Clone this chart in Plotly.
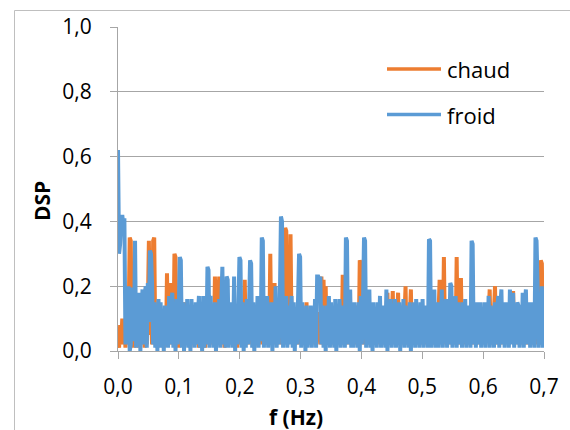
import plotly.graph_objects as go

# Power spectral density (DSP) of the two recordings, sampled every 0.00175 Hz
f_step = 0.00175
n_pts = 401
freq = [round(i * f_step, 5) for i in range(n_pts)]

dsp_chaud = [
    0.05, 0.01, 0.08, 0.02, 0.10, 0.03, 0.07, 0.01, 0.09, 0.02, 0.11, 0.35, 0.34, 0.02, 0.10, 0.01, 0.12, 0.03, 0.08, 0.01,
    0.09, 0.02, 0.12, 0.03, 0.07, 0.01, 0.10, 0.02, 0.13, 0.34, 0.05, 0.12, 0.02, 0.34, 0.35, 0.03, 0.10, 0.01, 0.12, 0.02,
    0.09, 0.03, 0.11, 0.01, 0.08, 0.02, 0.24, 0.03, 0.10, 0.21, 0.02, 0.09, 0.03, 0.30, 0.29, 0.02, 0.11, 0.01, 0.08, 0.03,
    0.10, 0.02, 0.09, 0.15, 0.02, 0.12, 0.03, 0.08, 0.01, 0.11, 0.02, 0.10, 0.04, 0.09, 0.02, 0.12, 0.01, 0.08, 0.03, 0.10,
    0.02, 0.11, 0.01, 0.09, 0.03, 0.12, 0.02, 0.08, 0.04, 0.10, 0.02, 0.23, 0.05, 0.22, 0.04, 0.23, 0.02, 0.11, 0.03, 0.09,
    0.01, 0.10, 0.03, 0.12, 0.02, 0.09, 0.04, 0.11, 0.02, 0.08, 0.03, 0.13, 0.01, 0.10, 0.02, 0.09, 0.03, 0.12, 0.02, 0.22,
    0.03, 0.10, 0.02, 0.11, 0.04, 0.09, 0.02, 0.13, 0.01, 0.10, 0.03, 0.12, 0.02, 0.08, 0.04, 0.11, 0.02, 0.14, 0.03, 0.10,
    0.02, 0.11, 0.04, 0.30, 0.03, 0.12, 0.02, 0.21, 0.03, 0.10, 0.02, 0.12, 0.04, 0.09, 0.02, 0.15, 0.03, 0.38, 0.37, 0.02,
    0.12, 0.03, 0.36, 0.05, 0.11, 0.02, 0.13, 0.03, 0.09, 0.02, 0.12, 0.04, 0.10, 0.02, 0.11, 0.03, 0.09, 0.15, 0.02, 0.10,
    0.03, 0.12, 0.02, 0.09, 0.04, 0.11, 0.02, 0.10, 0.03, 0.12, 0.02, 0.23, 0.06, 0.22, 0.05, 0.20, 0.03, 0.11, 0.02, 0.09,
    0.03, 0.13, 0.02, 0.10, 0.04, 0.11, 0.02, 0.09, 0.03, 0.12, 0.02, 0.235, 0.03, 0.10, 0.02, 0.11, 0.04, 0.09, 0.02, 0.12,
    0.03, 0.10, 0.02, 0.14, 0.04, 0.11, 0.02, 0.28, 0.27, 0.03, 0.11, 0.02, 0.12, 0.03, 0.09, 0.02, 0.10, 0.04, 0.12, 0.02,
    0.11, 0.03, 0.13, 0.02, 0.09, 0.04, 0.11, 0.02, 0.12, 0.03, 0.10, 0.02, 0.13, 0.18, 0.03, 0.11, 0.02, 0.10, 0.185, 0.03,
    0.11, 0.02, 0.09, 0.18, 0.03, 0.12, 0.02, 0.10, 0.04, 0.11, 0.20, 0.02, 0.12, 0.03, 0.10, 0.19, 0.02, 0.11, 0.03, 0.09,
    0.02, 0.12, 0.04, 0.10, 0.02, 0.11, 0.03, 0.13, 0.02, 0.09, 0.04, 0.11, 0.02, 0.10, 0.03, 0.12, 0.02, 0.09, 0.04, 0.11,
    0.02, 0.12, 0.22, 0.03, 0.11, 0.02, 0.29, 0.05, 0.12, 0.02, 0.10, 0.04, 0.11, 0.02, 0.09, 0.03, 0.12, 0.02, 0.29, 0.04,
    0.11, 0.02, 0.225, 0.03, 0.10, 0.02, 0.12, 0.04, 0.09, 0.02, 0.11, 0.03, 0.13, 0.02, 0.10, 0.04, 0.11, 0.02, 0.12, 0.03,
    0.09, 0.02, 0.11, 0.04, 0.10, 0.02, 0.12, 0.03, 0.11, 0.19, 0.02, 0.10, 0.03, 0.12, 0.20, 0.02, 0.11, 0.04, 0.09, 0.02,
    0.12, 0.03, 0.10, 0.02, 0.11, 0.04, 0.13, 0.02, 0.09, 0.03, 0.12, 0.185, 0.02, 0.11, 0.03, 0.10, 0.02, 0.12, 0.04, 0.09,
    0.02, 0.11, 0.03, 0.10, 0.02, 0.12, 0.04, 0.09, 0.02, 0.11, 0.03, 0.12, 0.02, 0.10, 0.04, 0.11, 0.02, 0.28, 0.27, 0.03,
    0.10,
]

dsp_froid = [
    0.62, 0.30, 0.33, 0.40, 0.42, 0.39, 0.41, 0.02, 0.09, 0.16, 0.20, 0.00, 0.02, 0.19, 0.19, 0.03, 0.34, 0.01, 0.08, 0.15,
    0.18, 0.00, 0.11, 0.19, 0.02, 0.17, 0.20, 0.01, 0.21, 0.09, 0.31, 0.30, 0.21, 0.02, 0.15, 0.01, 0.14, 0.00, 0.16, 0.01,
    0.15, 0.01, 0.12, 0.00, 0.14, 0.02, 0.11, 0.01, 0.17, 0.02, 0.15, 0.18, 0.01, 0.13, 0.00, 0.16, 0.02, 0.12, 0.29, 0.28,
    0.01, 0.15, 0.00, 0.12, 0.02, 0.16, 0.01, 0.14, 0.00, 0.16, 0.03, 0.13, 0.01, 0.15, 0.02, 0.11, 0.17, 0.01, 0.14, 0.00,
    0.17, 0.01, 0.13, 0.02, 0.26, 0.25, 0.01, 0.17, 0.03, 0.14, 0.01, 0.15, 0.00, 0.12, 0.02, 0.16, 0.01, 0.15, 0.26, 0.02,
    0.13, 0.01, 0.23, 0.22, 0.01, 0.15, 0.02, 0.13, 0.01, 0.23, 0.00, 0.14, 0.02, 0.12, 0.29, 0.28, 0.01, 0.15, 0.00, 0.13,
    0.01, 0.16, 0.02, 0.12, 0.28, 0.27, 0.01, 0.15, 0.00, 0.11, 0.02, 0.17, 0.01, 0.13, 0.03, 0.35, 0.34, 0.01, 0.15, 0.02,
    0.17, 0.01, 0.13, 0.02, 0.15, 0.00, 0.14, 0.03, 0.20, 0.01, 0.15, 0.02, 0.17, 0.415, 0.40, 0.01, 0.15, 0.02, 0.17, 0.01,
    0.14, 0.02, 0.12, 0.17, 0.01, 0.15, 0.00, 0.13, 0.02, 0.15, 0.30, 0.29, 0.01, 0.15, 0.02, 0.13, 0.00, 0.14, 0.01, 0.12,
    0.02, 0.14, 0.01, 0.13, 0.03, 0.16, 0.01, 0.23, 0.23, 0.22, 0.23, 0.02, 0.14, 0.01, 0.12, 0.00, 0.14, 0.02, 0.17, 0.01,
    0.15, 0.02, 0.13, 0.01, 0.16, 0.00, 0.14, 0.03, 0.16, 0.01, 0.14, 0.02, 0.13, 0.01, 0.35, 0.34, 0.02, 0.15, 0.19, 0.01,
    0.14, 0.01, 0.15, 0.03, 0.12, 0.01, 0.15, 0.00, 0.17, 0.02, 0.14, 0.35, 0.34, 0.01, 0.15, 0.02, 0.19, 0.01, 0.13, 0.00,
    0.15, 0.02, 0.13, 0.01, 0.15, 0.03, 0.17, 0.01, 0.14, 0.02, 0.12, 0.01, 0.19, 0.00, 0.15, 0.02, 0.16, 0.01, 0.13, 0.02,
    0.16, 0.01, 0.12, 0.02, 0.15, 0.00, 0.13, 0.03, 0.16, 0.01, 0.14, 0.02, 0.12, 0.01, 0.15, 0.00, 0.13, 0.03, 0.15, 0.01,
    0.16, 0.02, 0.13, 0.01, 0.15, 0.02, 0.16, 0.01, 0.14, 0.03, 0.12, 0.01, 0.345, 0.34, 0.01, 0.15, 0.02, 0.19, 0.01, 0.13,
    0.15, 0.01, 0.12, 0.02, 0.19, 0.01, 0.14, 0.03, 0.16, 0.01, 0.13, 0.02, 0.21, 0.20, 0.01, 0.15, 0.02, 0.17, 0.01, 0.13,
    0.15, 0.02, 0.13, 0.01, 0.15, 0.03, 0.16, 0.01, 0.14, 0.02, 0.12, 0.01, 0.34, 0.33, 0.02, 0.15, 0.01, 0.15, 0.02, 0.12,
    0.15, 0.01, 0.13, 0.02, 0.15, 0.01, 0.15, 0.03, 0.17, 0.01, 0.14, 0.02, 0.12, 0.01, 0.15, 0.02, 0.13, 0.17, 0.01, 0.14,
    0.19, 0.02, 0.13, 0.01, 0.15, 0.03, 0.12, 0.01, 0.19, 0.02, 0.14, 0.18, 0.01, 0.13, 0.02, 0.15, 0.14, 0.01, 0.12, 0.02,
    0.18, 0.01, 0.14, 0.19, 0.02, 0.13, 0.15, 0.01, 0.15, 0.02, 0.12, 0.01, 0.35, 0.34, 0.20, 0.01, 0.15, 0.02, 0.20, 0.01,
    0.19,
]
assert len(dsp_chaud) == n_pts and len(dsp_froid) == n_pts

series_names = ["chaud", "froid"]
series_colors = ["#ED7D31", "#5B9BD5"]
x_ticks = [0.0, 0.1, 0.2, 0.3, 0.4, 0.5, 0.6, 0.7]
x_tick_text = ["0,0", "0,1", "0,2", "0,3", "0,4", "0,5", "0,6", "0,7"]
y_ticks = [0.0, 0.2, 0.4, 0.6, 0.8, 1.0]
y_tick_text = ["0,0", "0,2", "0,4", "0,6", "0,8", "1,0"]

W, H = 570, 430
ML, MR, MT, MB = 118, 26, 27, 79
PW, PH = W - ML - MR, H - MT - MB
FONT = "Open Sans"
GRID = "#A6A6A6"


def px(x):
    return (x - ML) / PW


def py(y):
    return (H - MB - y) / PH


fig = go.Figure()
for name, vals, col in zip(series_names, [dsp_chaud, dsp_froid], series_colors):
    fig.add_trace(go.Scatter(
        x=freq, y=vals, mode="lines", name=name, showlegend=False,
        line=dict(color=col, width=4, simplify=False),
    ))

axis_common = dict(
    showline=True, linecolor=GRID, linewidth=1.3,
    ticks="outside", ticklen=7, tickcolor=GRID, tickwidth=1.3,
    tickfont=dict(family=FONT, size=21, color="#000000"),
    zeroline=False,
)
fig.update_xaxes(
    range=[0, 0.7], tickvals=x_ticks, ticktext=x_tick_text,
    showgrid=False, ticklabelstandoff=10, **axis_common,
)
fig.update_yaxes(
    range=[0, 1.0], tickvals=y_ticks, ticktext=y_tick_text,
    showgrid=True, gridcolor=GRID, gridwidth=1.3,
    ticklabelstandoff=14, **axis_common,
)

shapes = [
    # chart-area border
    dict(type="rect", xref="paper", yref="paper",
         x0=px(14.5), x1=px(600), y0=py(460), y1=py(10.5),
         line=dict(color="#BFBFBF", width=1), layer="below"),
]
annotations = [
    dict(text="<b>DSP</b>", xref="paper", yref="paper", x=px(42), y=py(201),
         textangle=-90, showarrow=False, xanchor="center", yanchor="middle",
         font=dict(family=FONT, size=21, color="#000000")),
    dict(text="<b>f (Hz)</b>", xref="paper", yref="paper", x=px(296), y=py(417),
         showarrow=False, xanchor="center", yanchor="middle",
         font=dict(family=FONT, size=21, color="#000000")),
]
# legend entries
for k, (name, col) in enumerate(zip(series_names, series_colors)):
    yy = 69 + k * 45.5
    shapes.append(dict(type="line", xref="paper", yref="paper",
                       x0=px(387), x1=px(441), y0=py(yy), y1=py(yy),
                       line=dict(color=col, width=3.5)))
    annotations.append(dict(text=name, xref="paper", yref="paper",
                            x=px(445), y=py(yy), showarrow=False,
                            xanchor="left", yanchor="middle",
                            font=dict(family=FONT, size=22, color="#000000")))

fig.update_layout(
    width=W, height=H,
    margin=dict(l=ML, r=MR, t=MT, b=MB),
    paper_bgcolor="white", plot_bgcolor="white",
    shapes=shapes, annotations=annotations,
    showlegend=False,
)

fig.write_html("out.html")
